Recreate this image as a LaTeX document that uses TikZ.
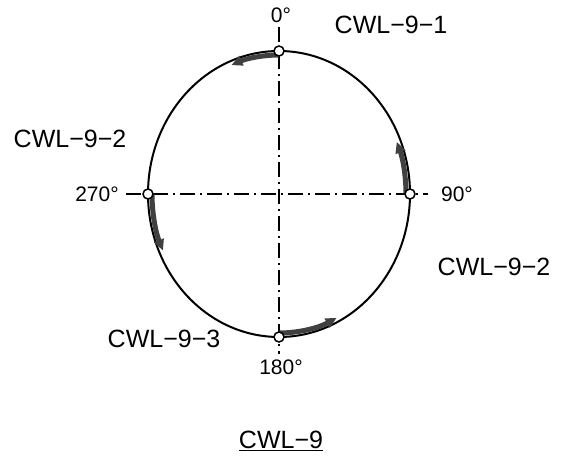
\documentclass[tikz,border=0pt]{standalone}
\usepackage{fontspec}
\setmainfont{Liberation Sans}
\usetikzlibrary{arrows.meta}
\begin{document}
\begin{tikzpicture}[x=1pt,y=1pt,
  axisline/.style={line width=1.7pt,dash pattern=on 15pt off 5pt on 2pt off 5pt},
  ring/.style={line width=2pt},
  pt/.style={circle,draw,fill=white,line width=1.5pt,minimum size=10pt,inner sep=0pt},
  arr/.style={line width=5pt,color=black!75,-{Triangle[length=11pt,width=10pt]}},
  big/.style={font=\fontsize{25}{30}\selectfont},
  deg/.style={font=\fontsize{21}{25}\selectfont}]
\useasboundingbox (0,0) rectangle (571,459);
\coordinate (c) at (279,265);
% axes
\coordinate (vt) at (279,432);
\coordinate (vb) at (279,105);
\coordinate (hl) at (126,265);
\coordinate (hr) at (428,265);
\draw[axisline] (vt) -- (vb);
\draw[axisline] (hl) -- (hr);
% ellipse
\draw[ring] (c) ellipse[x radius=131,y radius=143];
% arrows
\draw[arr] ([shift={(90:127 and 139)}]c) arc[start angle=90,end angle=112,x radius=127,y radius=139];
\draw[arr] ([shift={(0:127 and 139)}]c) arc[start angle=0,end angle=22,x radius=127,y radius=139];
\draw[arr] ([shift={(270:127 and 139)}]c) arc[start angle=270,end angle=297,x radius=127,y radius=139];
\draw[arr] ([shift={(180:127 and 139)}]c) arc[start angle=180,end angle=204,x radius=127,y radius=139];
% points
\node[pt] (p0) at (279,408) {};
\node[pt] (p90) at (410,265) {};
\node[pt] (p180) at (279,122) {};
\node[pt] (p270) at (148,265) {};
% degree labels
\node[deg] (l0) at (281,444) {0°};
\node[deg] (l90) at (457,265) {90°};
\node[deg] (l270) at (97,265) {270°};
\node[deg] (l180) at (281,92) {180°};
% names
\node[big] (n1) at (391,434) {CWL−9−1};
\node[big] (n2a) at (70,320) {CWL−9−2};
\node[big] (n2b) at (494,192) {CWL−9−2};
\node[big] (n3) at (164,120) {CWL−9−3};
\node[big] (t) at (281,18) {\underline{CWL−9}};
\end{tikzpicture}
\end{document}
